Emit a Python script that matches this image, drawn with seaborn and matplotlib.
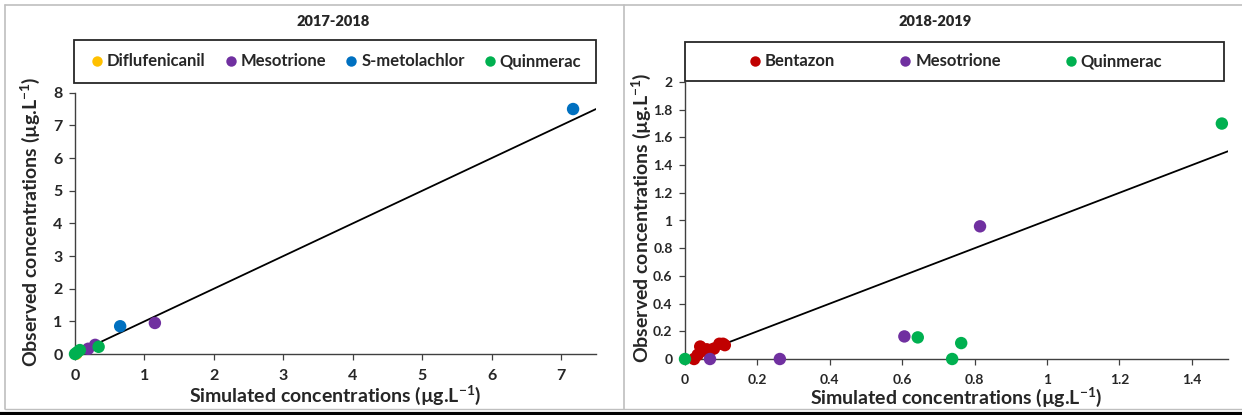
import numpy as np
import pandas as pd
import matplotlib
matplotlib.use("Agg")
import matplotlib.pyplot as plt
from matplotlib.patches import Rectangle
from matplotlib.lines import Line2D
import seaborn as sns

# ---- 2017-2018 season: simulated vs observed concentrations (ug/L) ----
s1_diflufenicanil_sim = [0.02]
s1_diflufenicanil_obs = [0.01]
s1_mesotrione_sim = [1.15, 0.29, 0.19]
s1_mesotrione_obs = [0.95, 0.28, 0.16]
s1_smetolachlor_sim = [7.17, 0.65]
s1_smetolachlor_obs = [7.50, 0.85]
s1_quinmerac_sim = [0.34, 0.00, 0.03, 0.07]
s1_quinmerac_obs = [0.22, 0.00, 0.05, 0.12]

# ---- 2018-2019 season ----
s2_bentazon_sim = [0.025, 0.035, 0.042, 0.05, 0.06, 0.07, 0.08, 0.095, 0.105, 0.11]
s2_bentazon_obs = [0.00, 0.03, 0.09, 0.06, 0.07, 0.065, 0.075, 0.11, 0.11, 0.10]
s2_mesotrione_sim = [0.815, 0.606, 0.262, 0.069]
s2_mesotrione_obs = [0.958, 0.163, 0.00, 0.00]
s2_quinmerac_sim = [1.483, 0.643, 0.763, 0.738, 0.00]
s2_quinmerac_obs = [1.70, 0.156, 0.115, 0.00, 0.00]

season_titles = ["2017-2018", "2018-2019"]
x_label = "Simulated concentrations (µg.L$^{-1}$)"
y_label = "Observed concentrations (µg.L$^{-1}$)"

colors = {
    "Diflufenicanil": "#FFC000",
    "Mesotrione": "#7030A0",
    "S-metolachlor": "#0070C0",
    "Quinmerac": "#00B050",
    "Bentazon": "#C00000",
}


def frame(pairs):
    rows = []
    for name, xs, ys in pairs:
        for x, y in zip(xs, ys):
            rows.append({"Simulated": x, "Observed": y, "Compound": name})
    return pd.DataFrame(rows)


df1 = frame([
    ("Diflufenicanil", s1_diflufenicanil_sim, s1_diflufenicanil_obs),
    ("Mesotrione", s1_mesotrione_sim, s1_mesotrione_obs),
    ("S-metolachlor", s1_smetolachlor_sim, s1_smetolachlor_obs),
    ("Quinmerac", s1_quinmerac_sim, s1_quinmerac_obs),
])
df2 = frame([
    ("Bentazon", s2_bentazon_sim, s2_bentazon_obs),
    ("Mesotrione", s2_mesotrione_sim, s2_mesotrione_obs),
    ("Quinmerac", s2_quinmerac_sim, s2_quinmerac_obs),
])

sns.set_style("white")
plt.rcParams["font.family"] = ["Lato", "DejaVu Sans"]
plt.rcParams["font.weight"] = "bold"
plt.rcParams["mathtext.fontset"] = "custom"
plt.rcParams["mathtext.rm"] = "Lato:bold"
plt.rcParams["mathtext.it"] = "Lato:bold"
plt.rcParams["mathtext.bf"] = "Lato:bold"
plt.rcParams["mathtext.default"] = "regular"

W, H = 1242, 415
fig = plt.figure(figsize=(W / 100, H / 100), dpi=100)


def fx(px):
    return px / W


def fy(py):
    return 1 - py / H


# outer table-like frame
fig.add_artist(Line2D([fx(5), fx(W)], [fy(5), fy(5)], color="#BFBFBF", lw=1.2))
fig.add_artist(Line2D([fx(5), fx(5)], [fy(5), fy(409)], color="#BFBFBF", lw=1.2))
fig.add_artist(Line2D([fx(624), fx(624)], [fy(5), fy(409)], color="#BFBFBF", lw=1.2))
fig.add_artist(Line2D([fx(5), fx(W)], [fy(409), fy(409)], color="#BFBFBF", lw=1.0))
fig.add_artist(Line2D([0, 1], [fy(413.5), fy(413.5)], color="black", lw=3.0))

panels = [
    dict(df=df1, order=["Diflufenicanil", "Mesotrione", "S-metolachlor", "Quinmerac"],
         box=(75, 92.7, 596, 354), xlim=(0, 7.5), ylim=(0, 8),
         xticks=np.arange(0, 8, 1), yticks=np.arange(0, 9, 1), fmt="{:g}",
         tick_size=11.5, legend_box=(74, 40, 596, 83), title_xy=(333, 22),
         colspace=1.0, ylab=(-0.086, 0.505), xlab=(0.50, -0.157)),
    dict(df=df2, order=["Bentazon", "Mesotrione", "Quinmerac"],
         box=(685, 82, 1228, 359), xlim=(0, 1.5), ylim=(0, 2),
         xticks=np.arange(0, 1.41, 0.2), yticks=np.arange(0, 2.01, 0.2), fmt="{:g}",
         tick_size=10, legend_box=(685, 42, 1224, 81), title_xy=(935, 21),
         colspace=3.7, ylab=(-0.081, 0.509), xlab=(0.499, -0.137)),
]

for i, p in enumerate(panels):
    l, t, r, b = p["box"]
    ax = fig.add_axes([fx(l), fy(b), fx(r) - fx(l), fy(t) - fy(b)])
    lo, hi = p["xlim"]
    ax.plot([lo, hi], [lo, hi], color="black", lw=1.3, zorder=1)
    sns.scatterplot(data=p["df"], x="Simulated", y="Observed", hue="Compound",
                    hue_order=p["order"], palette=colors, s=80, linewidth=0,
                    edgecolor="none", ax=ax, legend=False, zorder=3, clip_on=False)
    ax.set_xlim(*p["xlim"])
    ax.set_ylim(*p["ylim"])
    ax.set_xticks(p["xticks"])
    ax.set_yticks(p["yticks"])
    ax.set_xticklabels([p["fmt"].format(round(v, 1)) for v in p["xticks"]],
                       fontsize=p["tick_size"], fontweight="bold")
    ax.set_yticklabels([p["fmt"].format(round(v, 1)) for v in p["yticks"]],
                       fontsize=p["tick_size"], fontweight="bold")
    for side in ["top", "right"]:
        ax.spines[side].set_visible(False)
    for side in ["left", "bottom"]:
        ax.spines[side].set_color("#404040")
        ax.spines[side].set_linewidth(1.0)
    ax.tick_params(axis="both", direction="out", length=4, width=0.9,
                   color="#404040", left=True, bottom=True)
    ax.tick_params(axis="x", pad=7)
    ax.tick_params(axis="y", pad=5)
    ax.set_xlabel(x_label, fontsize=14, fontweight="bold")
    ax.set_ylabel(y_label, fontsize=14, fontweight="bold")
    ax.xaxis.set_label_coords(*p["xlab"])
    ax.yaxis.set_label_coords(*p["ylab"])
    ax.xaxis.label.set_va("center")
    ax.yaxis.label.set_va("center")

    # panel title
    fig.text(fx(p["title_xy"][0]), fy(p["title_xy"][1]), season_titles[i],
             ha="center", va="center", fontsize=10.5, fontweight="heavy")

    # boxed legend across the top of the panel
    bl, bt, br, bb = p["legend_box"]
    fig.add_artist(Rectangle((fx(bl), fy(bb)), fx(br) - fx(bl), fy(bt) - fy(bb),
                             fill=False, edgecolor="#262626", lw=1.3))
    handles = [Line2D([], [], marker="o", linestyle="none", markersize=7.5,
                      markerfacecolor=colors[n], markeredgewidth=0) for n in p["order"]]
    fig.legend(handles, p["order"], loc="center",
               bbox_to_anchor=(fx((bl + br) / 2), fy((bt + bb) / 2)),
               ncol=len(p["order"]), frameon=False, handletextpad=0.1,
               handlelength=1.0, columnspacing=p["colspace"],
               prop={"weight": "bold", "size": 12})

fig.savefig("out.png", dpi=100)
